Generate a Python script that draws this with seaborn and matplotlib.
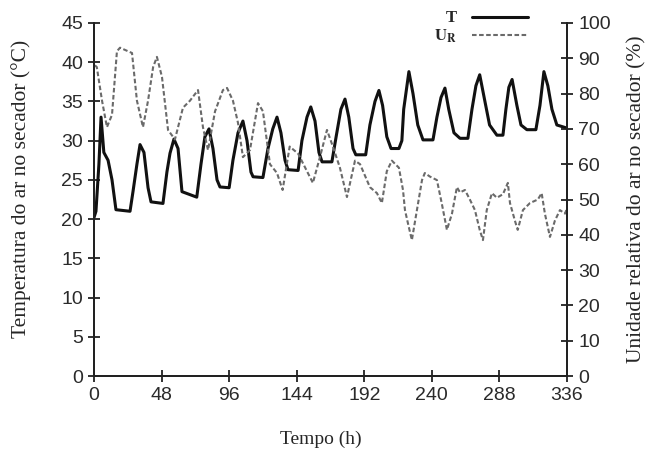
import numpy as np
import matplotlib
matplotlib.use("Agg")
import matplotlib.pyplot as plt
import pandas as pd
import seaborn as sns

# temperatura do ar no secador (°C) vs tempo (h)
hours_T = [0, 1.4, 3.5, 5, 7, 10, 12.8, 15.6, 25.6, 27.7, 30.5, 32.7, 35.5, 38.4, 40.5,
           49, 51.8, 54, 56.8, 59.7, 62.5, 73, 76, 78.8, 81.7, 84.5, 87.4, 89.5,
           96, 98.7, 102.3, 105.8, 108.7, 111.5, 113, 120, 123.6, 127, 130, 132.8, 135.7, 137.8,
           145, 147.7, 151.3, 154, 157, 159.8, 162, 169, 172, 175.4, 178.3, 181, 184, 186,
           193, 196, 199.6, 202.4, 205, 208, 211, 216.6, 218.7, 220, 223.7, 226.6, 230, 233.7,
           240.8, 243.6, 246.5, 249.3, 252, 255.7, 260, 265.6, 268.5, 271.3, 274, 277.7, 281, 286.2,
           290.5, 292.6, 294.7, 297, 300.4, 303.3, 307.5, 313.9, 316.8, 319.6, 322.4, 325.3, 328.8, 336]
temp = [20.2, 21, 27, 33, 28.5, 27.5, 25, 21.2, 21, 23.5, 27, 29.5, 28.5, 24, 22.2,
        22, 26, 28.4, 30.2, 29, 23.5, 22.8, 27, 30.5, 31.5, 29, 25, 24.1,
        24, 27.5, 31, 32.5, 30, 26, 25.4, 25.3, 29, 31.5, 33, 31, 27.5, 26.3,
        26.2, 30, 33, 34.3, 32.5, 28.5, 27.3, 27.3, 30.5, 34, 35.3, 33, 29, 28.2,
        28.2, 32, 35, 36.4, 34.5, 30.5, 29, 29, 30, 34, 38.8, 36, 32, 30.1,
        30.1, 33, 35.5, 36.7, 34, 31, 30.3, 30.3, 34, 37, 38.4, 35, 32, 30.7,
        30.7, 34, 36.8, 37.8, 34.5, 32, 31.4, 31.4, 34.5, 38.8, 37, 34, 32, 31.6]

# umidade relativa do ar no secador (%) vs tempo (h)
hours_UR = [0.7, 2, 5.7, 9.2, 12.8, 16.3, 18.5, 27, 30.5, 34.8, 38.4, 42, 44.7, 48.3, 52.6,
            57.5, 63.2, 68.2, 73.9, 77.4, 81, 86, 91.6, 94.5, 98.7, 102.3, 105.8, 110.8, 116.5,
            120, 125, 130, 134, 139, 145, 151.3, 155.5, 160.5, 165.5, 169.7, 174.7, 179.7,
            185.4, 189, 196, 201, 204.5, 208, 211.6, 216.6, 219.5, 220.9, 223, 225.8, 229.4,
            233, 235, 238.6, 243.6, 247, 250.7, 254.3, 257.8, 260, 263.5, 267, 270.6, 274,
            276.3, 279, 282.7, 286.2, 290.5, 294, 295.5, 299, 301, 304.7, 309.7, 315.3, 318,
            320.3, 323.9, 327.4, 331, 334.6, 336]
umid = [88, 87.5, 78, 70.5, 74, 92, 93, 91.5, 78, 70.5, 78, 87.5, 90.4, 84.7, 69.7,
        67, 76, 78, 81, 70.5, 64, 75, 81, 81.6, 78, 71.7, 62, 64, 77.3,
        75, 60, 57.5, 52.7, 65, 63, 58, 54.7, 62, 69.7, 65, 59, 50.7,
        61, 60, 53.5, 51.8, 49, 58, 61, 59, 52.7, 47, 43.3, 38.5, 47,
        55.5, 57.5, 56.5, 55.5, 49, 41.4, 46, 53.5, 52, 52.7, 50, 47, 41.4,
        38.5, 47, 51.8, 50.5, 51.5, 54.7, 49, 44, 41.4, 47, 49, 50, 51.8,
        46, 39.4, 44, 47, 46, 47.5]

x_ticks = list(range(0, 337, 48))
left_ticks = list(range(0, 46, 5))
right_ticks = list(range(0, 101, 10))

df_T = pd.DataFrame({"Tempo": hours_T, "T": temp})
df_U = pd.DataFrame({"Tempo": hours_UR, "UR": umid})

sns.set_theme(style="ticks")
plt.rcParams["font.family"] = ["Liberation Serif", "DejaVu Serif"]
plt.rcParams["mathtext.fontset"] = "stix"

fig = plt.figure(figsize=(6.5, 4.59), dpi=100)
ax = fig.add_axes([0.1446, 0.1808, 0.7277, 0.7691])
ax2 = ax.twinx()

sns.lineplot(data=df_T, x="Tempo", y="T", ax=ax, color="#111111", linewidth=2.2,
             label="T", legend=False, sort=False)
sns.lineplot(data=df_U, x="Tempo", y="UR", ax=ax2, color="#6a6a6a", linewidth=1.5,
             linestyle=(0, (2.2, 1.2)), label=r"$\mathbf{U_R}$", legend=False, sort=False)

ax.set_xlim(0, 336)
ax.set_ylim(0, 45)
ax2.set_ylim(0, 100)
ax.set_xticks(x_ticks)
ax.set_yticks(left_ticks)
ax2.set_yticks(right_ticks)

for a in (ax, ax2):
    a.spines["top"].set_visible(False)
    for s in a.spines.values():
        s.set_linewidth(1.4)
        s.set_color("#222222")
    a.tick_params(direction="inout", length=8, width=1.3, color="#222222",
                  labelsize=14, labelcolor="#2a2a2a", pad=4,
                  labelfontfamily="Liberation Sans")

ax.set_xlabel("Tempo (h)", fontsize=14)
ax.xaxis.set_label_coords(0.48, -0.155)
ax.set_ylabel("Temperatura do ar no secador (°C)", fontsize=15.5)
ax.yaxis.set_label_coords(-0.133, 0.53)
ax2.set_ylabel("Unidade relativa do ar no secador (%)", fontsize=15.5)
ax2.yaxis.set_label_coords(1.128, 0.5)

h1, l1 = ax.get_legend_handles_labels()
h2, l2 = ax2.get_legend_handles_labels()
fig.legend(h1 + h2, l1 + l2, loc="upper right", bbox_to_anchor=(0.836, 1.01),
           frameon=False, markerfirst=False, handlelength=3.4, handletextpad=0.9,
           labelspacing=0.1, prop={"weight": "bold", "size": 12})

fig.savefig("out.png", dpi=100)
